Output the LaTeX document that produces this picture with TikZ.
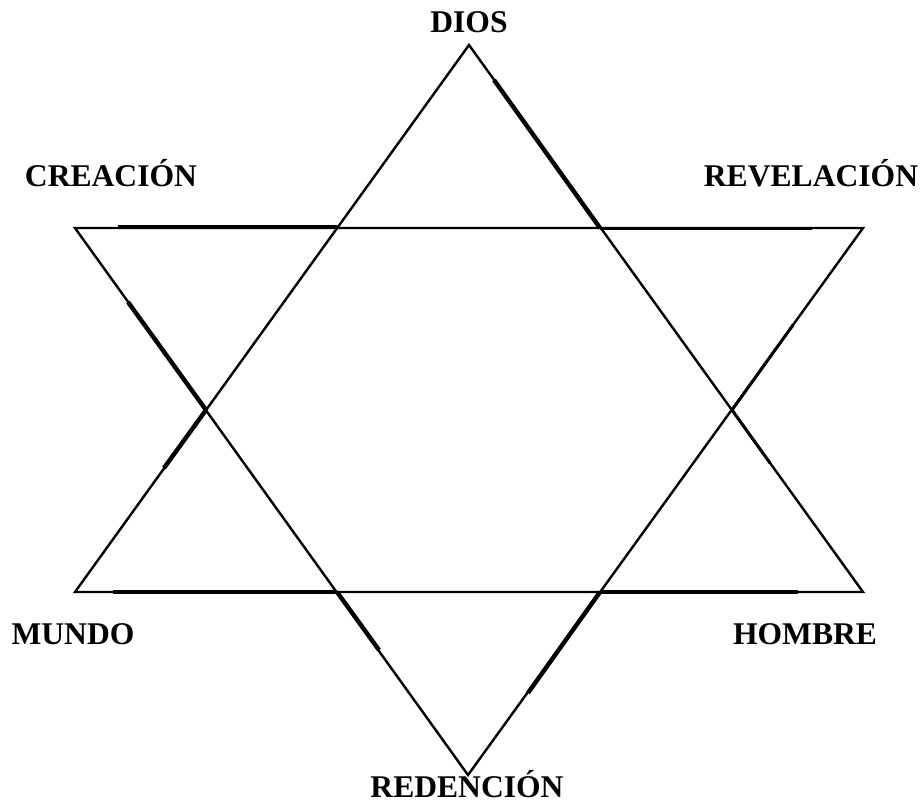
\documentclass[tikz,border=0pt]{standalone}
\usepackage{fontspec}
\setmainfont{Liberation Serif}
\usetikzlibrary{calc}
\definecolor{ink}{RGB}{0, 0, 0}

\begin{document}
\begin{tikzpicture}[
    x=0.5pt, y=-0.5pt,
    edge/.style={ink, line width=1.2pt, line join=miter},
    heavy/.style={ink, line width=2.2pt},
    halfheavy/.style={ink, line width=1.5pt},
    lbl/.style={anchor=base, inner sep=0pt,
                font=\fontsize{15.8}{18}\selectfont\bfseries},
]
\useasboundingbox (0,0) rectangle (924,808);

% -- Corners of the two triangles --
\coordinate (dios)   at (469, 45);
\coordinate (mundo)  at (75, 592);
\coordinate (hombre) at (863, 592);
\coordinate (crea)   at (75, 228);
\coordinate (reve)   at (863, 228);
\coordinate (rede)   at (468, 775);

% -- Crossings --
\coordinate (xtl) at (337, 228);
\coordinate (xtr) at (600, 228);
\coordinate (xl)  at (206, 410);
\coordinate (xr)  at (732, 410);
\coordinate (xbl) at (337, 592);
\coordinate (xbr) at (600, 592);

% -- Ends of the heavy strokes --
\coordinate (h1) at (118, 228);
\coordinate (h2) at (812, 228);
\coordinate (h3) at (128, 302);
\coordinate (h4) at (164, 468);
\coordinate (h5) at (113, 592);
\coordinate (h6) at (379, 650);
\coordinate (h7) at (798, 592);
\coordinate (h8) at (528, 693);
\coordinate (h9) at (494, 80);
\coordinate (h10) at (770, 463);
\coordinate (h11) at (793, 325);

% -- Triangles --
\draw[edge] (dios) -- (hombre) -- (mundo) -- cycle;
\draw[edge] (crea) -- (reve) -- (rede) -- cycle;

% -- Heavy strokes --
\draw[heavy] ($(h1)+(0,-1)$) -- ($(xtl)+(0,-1)$);
\draw[halfheavy] (xtr) -- (h2);
\draw[heavy] (h3) -- (xl);
\draw[heavy] (xl) -- (h4);
\draw[heavy] (h5) -- (xbl);
\draw[heavy] (xbl) -- (h6);
\draw[heavy] (xbr) -- (h7);
\draw[heavy] (xbr) -- (h8);
\draw[heavy] (h9) -- (xtr);
\draw[halfheavy] (xr) -- (h10);
\draw[halfheavy] (xr) -- (h11);

% -- Labels --
\node[lbl] (ldios) at (469, 33) {DIOS};
\node[lbl] (lcrea) at (111, 186) {CREACIÓN};
\node[lbl] (lreve) at (811, 186) {REVELACIÓN};
\node[lbl] (lmundo) at (73, 644) {MUNDO};
\node[lbl] (lhombre) at (805, 644) {HOMBRE};
\node[lbl] (lrede) at (467, 797) {REDENCIÓN};

\end{tikzpicture}
\end{document}
